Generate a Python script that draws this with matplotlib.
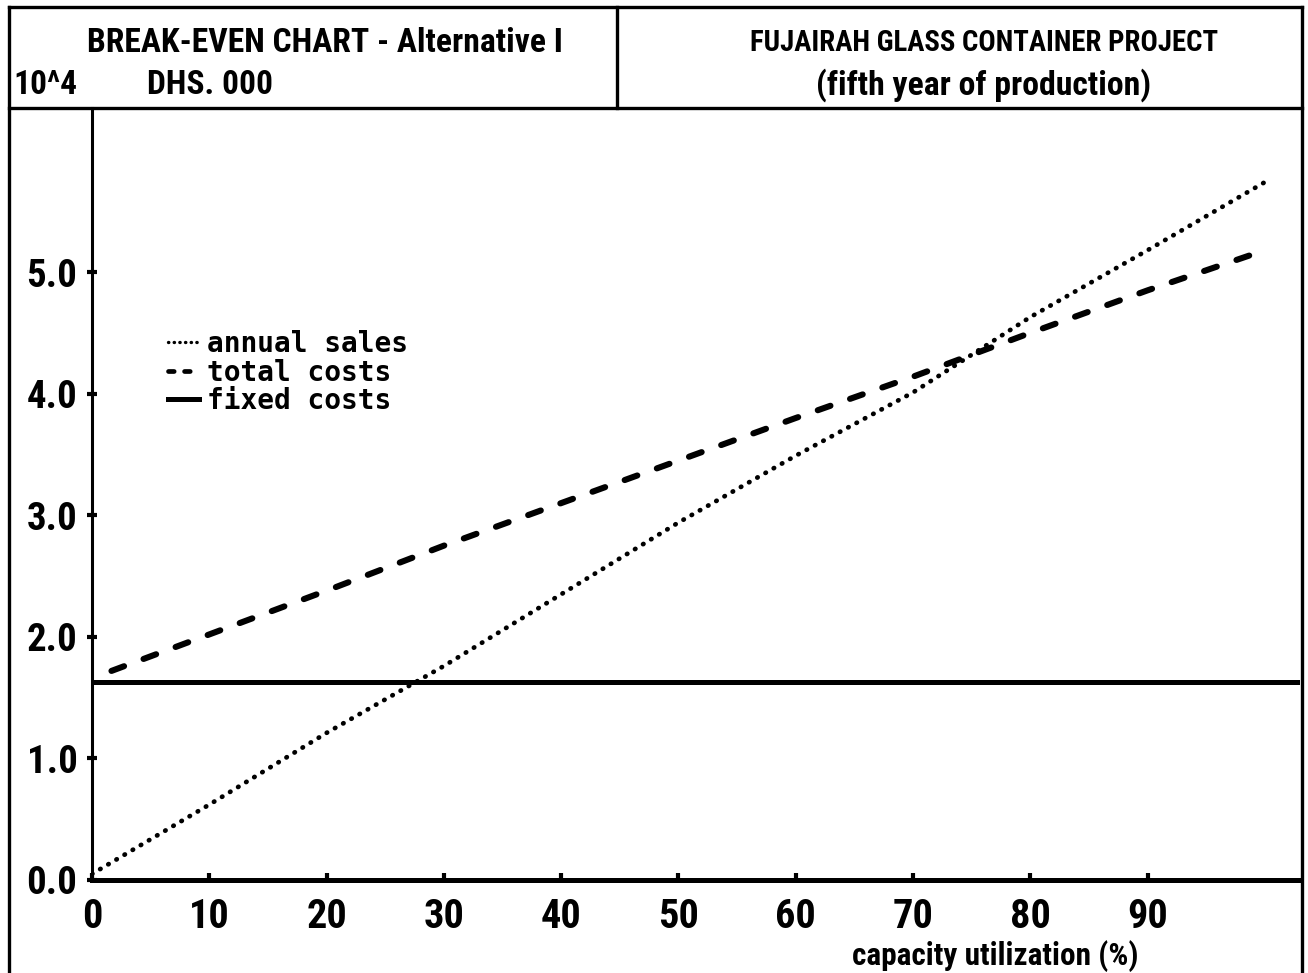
import matplotlib
matplotlib.use("Agg")
import matplotlib.pyplot as plt
from matplotlib.lines import Line2D

# break-even data, values in 10^4 DHS. 000
capacity = [0, 10, 20, 30, 40, 50, 60, 70, 80, 90, 100]
annual_sales = [0.05, 0.62, 1.21, 1.76, 2.35, 2.94, 3.49, 4.01, 4.63, 5.18, 5.74]
total_costs = [1.66, 2.02, 2.38, 2.75, 3.10, 3.45, 3.80, 4.14, 4.50, 4.85, 5.18]
fixed_costs = 1.63

x_ticks = [0, 10, 20, 30, 40, 50, 60, 70, 80, 90]
y_ticks = [0, 1, 2, 3, 4, 5]
y_labels = ["0.0", "1.0", "2.0", "3.0", "4.0", "5.0"]

narrow = ["Roboto Condensed", "Liberation Sans Narrow", "Roboto", "DejaVu Sans"]
mono = ["DejaVu Sans Mono", "DejaVu Sans"]
plt.rcParams["font.family"] = narrow
plt.rcParams["font.weight"] = "bold"

W, H = 1308, 973
fig = plt.figure(figsize=(W / 100, H / 100), dpi=100)

def fx(px):
    return px / W

def fy(py):
    return 1 - py / H

def fit(t, width_px):
    # shrink/grow a text so that it spans width_px pixels
    r = fig.canvas.get_renderer()
    w = t.get_window_extent(r).width
    t.set_fontsize(t.get_fontsize() * width_px / w)

# axes box: y axis at x=92, x axis at y=880, top at header divider
ax = fig.add_axes([fx(92), fy(880), fx(1300) - fx(92), fy(108) - fy(880)])
ax.set_xlim(0, 103)
ax.set_ylim(0, 6.35)

sales_style = dict(color="black", lw=3.4, linestyle=(0, (0.1, 1.9)),
                   dash_capstyle="round")
costs_style = dict(color="black", lw=4.4, linestyle=(2.2, (2.2, 3.4)),
                   dash_capstyle="round")
ax.plot(capacity, annual_sales, **sales_style)
ax.plot(capacity, total_costs, **costs_style)
ax.axhline(fixed_costs, color="black", lw=3.6)

for s in ["top", "right"]:
    ax.spines[s].set_visible(False)
ax.spines["left"].set_linewidth(2.2)
ax.spines["bottom"].set_linewidth(3.6)

ax.set_xticks(x_ticks)
ax.set_xticklabels([str(v) for v in x_ticks], fontsize=29, fontweight="bold")
ax.set_yticks(y_ticks)
ax.set_yticklabels(y_labels, fontsize=28, fontweight="bold")
ax.tick_params(axis="y", direction="inout", length=7, width=3, pad=7)
ax.tick_params(axis="x", direction="in", length=5, width=3, pad=13)

# short legend samples like the plotter's
handles = [
    Line2D([], [], color="black", lw=2.4, linestyle=(0, (0.1, 1.6)),
           dash_capstyle="round"),
    Line2D([], [], color="black", lw=3.4, linestyle=(0, (1.2, 2.2)),
           dash_capstyle="round"),
    Line2D([], [], color="black", lw=3.6),
]
leg = ax.legend(handles, ["annual sales", "total costs", "fixed costs"],
                loc="upper left", bbox_to_anchor=(fx(168), fy(330)),
                bbox_transform=fig.transFigure, frameon=False,
                handlelength=1.1, handletextpad=0.3, labelspacing=0.02,
                borderpad=0, borderaxespad=0,
                prop={"family": mono, "weight": "bold", "size": 20})

xlab = fig.text(fx(995), fy(956), "capacity utilization (%)", ha="center",
                va="center", fontsize=21, fontweight="bold")
fit(xlab, 285)

# header texts
t1 = fig.text(fx(325), fy(43), "BREAK-EVEN CHART - Alternative I", ha="center",
              va="center", fontsize=23, fontweight="bold")
fit(t1, 478)
t2 = fig.text(fx(13), fy(85), "10^4", ha="left", va="center",
              fontsize=22, fontweight="bold")
fit(t2, 64)
t3 = fig.text(fx(147), fy(85), "DHS. 000", ha="left", va="center",
              fontsize=t2.get_fontsize(), fontweight="bold")
t4 = fig.text(fx(984), fy(43), "FUJAIRAH GLASS CONTAINER PROJECT", ha="center",
              va="center", fontsize=23, fontweight="bold")
fit(t4, 470)
t5 = fig.text(fx(984), fy(85), "(fifth year of production)", ha="center",
              va="center", fontsize=22, fontweight="bold")
fit(t5, 335)

# frame lines
frame = [
    ([fx(9), fx(1302)], [fy(7), fy(7)]),
    ([fx(9), fx(9)], [fy(7), fy(973)]),
    ([fx(1302), fx(1302)], [fy(7), fy(973)]),
    ([fx(9), fx(1302)], [fy(108), fy(108)]),
    ([fx(617), fx(617)], [fy(7), fy(108)]),
]
for xs, ys in frame:
    fig.add_artist(Line2D(xs, ys, color="black", lw=2.4,
                          transform=fig.transFigure))

fig.savefig("out.png", dpi=100)
